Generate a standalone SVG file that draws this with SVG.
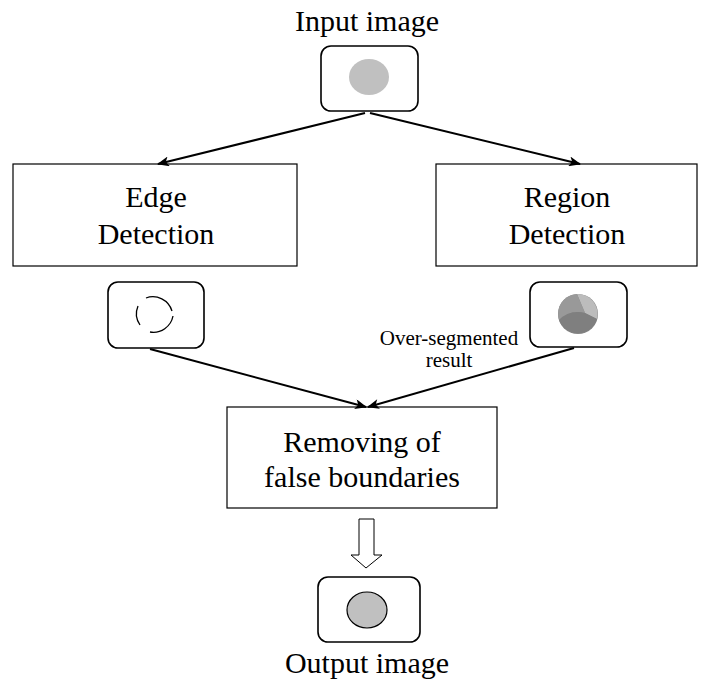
<svg xmlns="http://www.w3.org/2000/svg" width="711" height="682" viewBox="0 0 711 682">
  <style>
    .lbl { font-family: "Liberation Serif", "Times New Roman", serif; font-size: 30px; fill: #000; text-anchor: middle; }
    .small { font-family: "Liberation Serif", "Times New Roman", serif; font-size: 21px; fill: #000; text-anchor: middle; }
    .box { fill: #fff; stroke: #000; stroke-width: 1.2; }
    .thumb { fill: #fff; stroke: #000; stroke-width: 1.6; }
    .conn { stroke: #000; stroke-width: 2; fill: none; }
  </style>
  <defs>
    <marker id="arr" viewBox="0 0 12 10" refX="11" refY="5" markerWidth="13" markerHeight="10" orient="auto" markerUnits="userSpaceOnUse">
      <path d="M0,0 L12,5 L0,10 L3,5 Z" fill="#000"/>
    </marker>
  </defs>
  <rect width="711" height="682" fill="#fff"/>

  <g id="input-image">
    <text class="lbl" x="367" y="31">Input image</text>
    <rect class="thumb" x="321" y="46" width="97" height="65" rx="10"/>
    <ellipse cx="369" cy="77" rx="20" ry="18" fill="#c0c0c0"/>
  </g>

  <g id="edge-detection">
    <rect class="box" x="13" y="164" width="284" height="102"/>
    <text class="lbl" x="156" y="207">Edge</text>
    <text class="lbl" x="156" y="244">Detection</text>
  </g>

  <g id="region-detection">
    <rect class="box" x="436" y="164" width="261" height="102"/>
    <text class="lbl" x="567" y="207">Region</text>
    <text class="lbl" x="567" y="244">Detection</text>
  </g>

  <g id="edge-result">
    <rect class="thumb" x="108" y="282" width="96" height="66" rx="10"/>
    <g fill="none" stroke="#000" stroke-width="1.3">
      <path d="M138,306 A20,20 0 0 0 140,325"/>
      <path d="M146,298 A20,20 0 0 1 172,311"/>
      <path d="M173,316 A20,20 0 0 1 150,332"/>
    </g>
  </g>

  <g id="region-result">
    <rect class="thumb" x="530" y="282" width="97" height="65" rx="10"/>
    <circle cx="578" cy="314" r="20" fill="#888"/>
    <path d="M577,294 A20,20 0 0 1 597,319 L585,313 Z" fill="#bcbcbc"/>
    <path d="M577,294 L585,313 Q570,309 559,320 A20,20 0 0 1 577,294 Z" fill="#999"/>
    <path d="M559,320 Q570,309 585,313 L597,319 A20,20 0 0 1 559,320 Z" fill="#7f7f7f"/>
  </g>

  <g id="over-segmented-label">
    <text class="small" x="449" y="345">Over-segmented</text>
    <text class="small" x="449" y="367">result</text>
  </g>

  <g id="removing">
    <rect class="box" x="227" y="407" width="270" height="101"/>
    <text class="lbl" x="362" y="452">Removing of</text>
    <text class="lbl" x="362" y="487">false boundaries</text>
  </g>

  <g id="output-image">
    <rect class="thumb" x="318" y="577" width="102" height="65" rx="10"/>
    <ellipse cx="367" cy="610" rx="20" ry="18" fill="#c0c0c0" stroke="#000" stroke-width="1.2"/>
    <text class="lbl" x="367" y="673">Output image</text>
  </g>

  <g id="connectors">
    <line class="conn" x1="365" y1="113" x2="158" y2="164" marker-end="url(#arr)"/>
    <line class="conn" x1="370" y1="113" x2="580" y2="164" marker-end="url(#arr)"/>
    <line class="conn" x1="150" y1="349" x2="366" y2="407" marker-end="url(#arr)"/>
    <line class="conn" x1="574" y1="348" x2="368" y2="407" marker-end="url(#arr)"/>
    <path d="M359,519 L374,519 L374,555 L382,555 L366,568 L351,555 L359,555 Z" fill="#fff" stroke="#000" stroke-width="1"/>
  </g>
</svg>
